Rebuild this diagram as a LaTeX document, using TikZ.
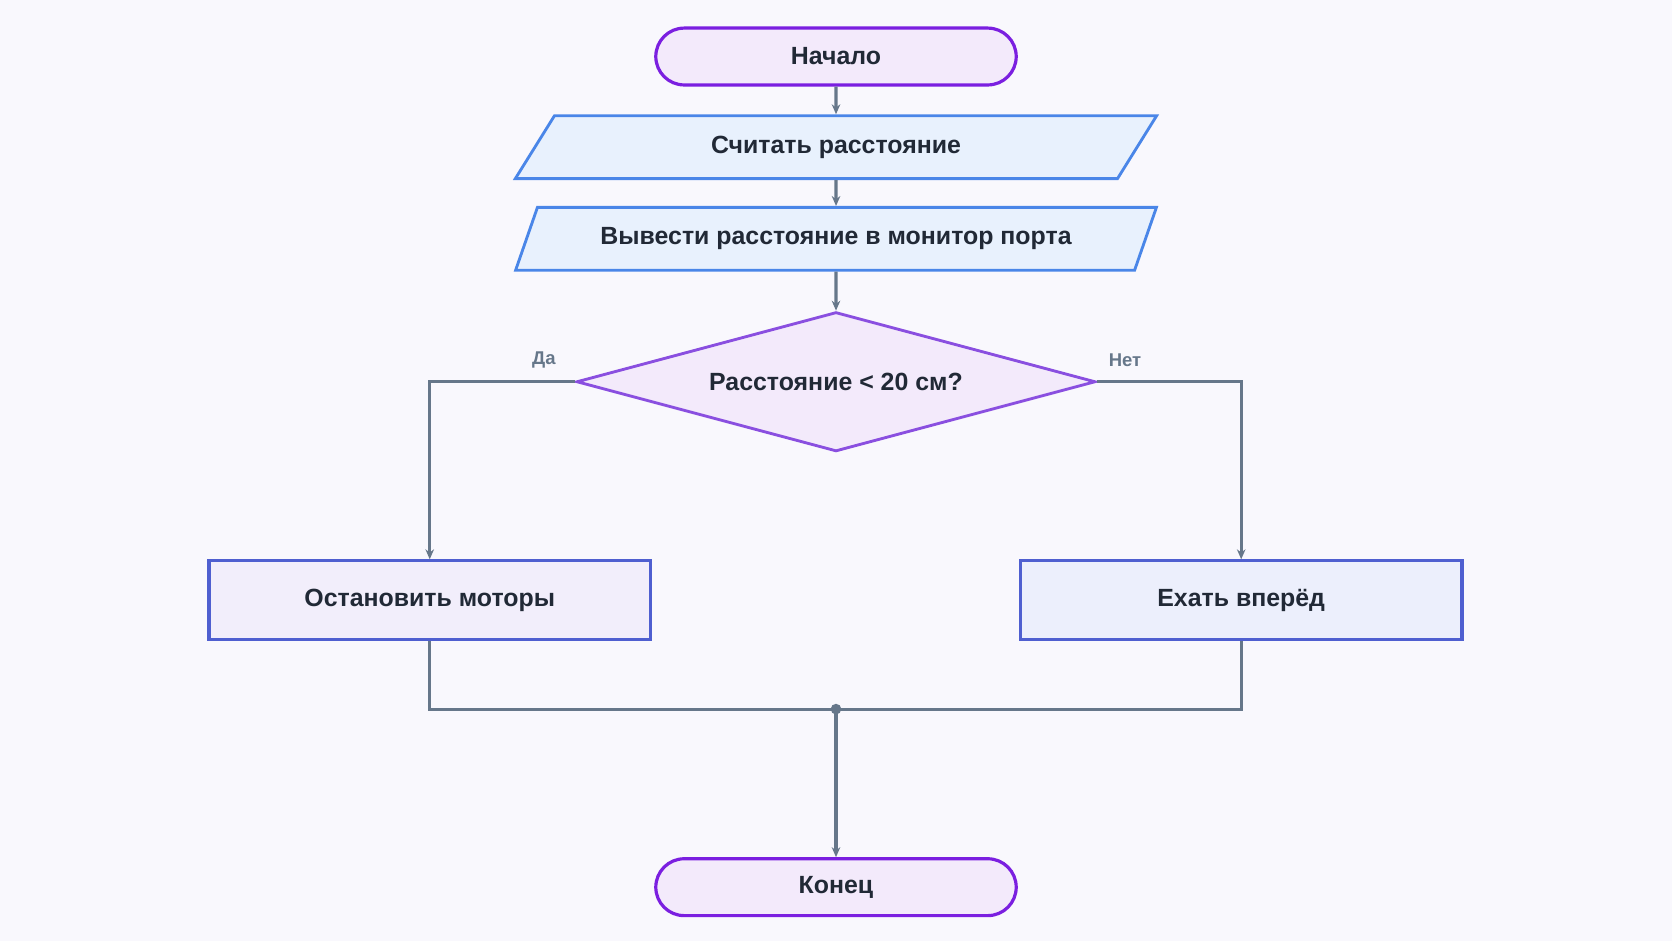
\documentclass[tikz,border=0pt]{standalone}
\usepackage{fontspec}
\setmainfont{Liberation Sans}
\usetikzlibrary{shapes.geometric,arrows.meta}
\definecolor{bgc}{RGB}{249,248,253}
\definecolor{termline}{RGB}{123,31,224}
\definecolor{termfill}{RGB}{243,234,251}
\definecolor{ioline}{RGB}{74,134,232}
\definecolor{iofill}{RGB}{232,241,253}
\definecolor{decline}{RGB}{138,79,224}
\definecolor{boxline}{RGB}{79,95,208}
\definecolor{boxfillA}{RGB}{242,238,251}
\definecolor{boxfillB}{RGB}{236,239,252}
\definecolor{conn}{RGB}{102,119,138}
\definecolor{txt}{RGB}{33,41,54}
\tikzset{every picture/.style={line width=0.75pt}}
\tikzset{
  term/.style={draw=termline,fill=termfill,line width=2.25pt,rounded corners=20pt,minimum width=253.5pt,minimum height=40pt,text=txt,font=\fontsize{17.5}{20}\selectfont\bfseries},
  io/.style={draw=ioline,fill=iofill,line width=2pt,trapezium,trapezium left angle=61.5,trapezium right angle=118.5,trapezium stretches=true,inner xsep=0pt,minimum width=451.5pt,minimum height=44.25pt,text=txt,font=\fontsize{17.5}{20}\selectfont\bfseries},
  dec/.style={draw=decline,fill=termfill,line width=2pt,diamond,aspect=3.72,inner sep=0pt,minimum width=365pt,minimum height=98pt,text=txt,font=\fontsize{17.5}{20}\selectfont\bfseries},
  act/.style={draw=boxline,line width=2.25pt,minimum width=310.5pt,minimum height=55.5pt,text=txt,font=\fontsize{17.5}{20}\selectfont\bfseries},
  link/.style={draw=conn,line width=2.25pt},
  arr/.style={link,-{Stealth[length=7pt,width=6pt]}},
  lbl/.style={text=conn,font=\fontsize{13}{15}\selectfont\bfseries}
}
\begin{document}
\begin{tikzpicture}[x=0.75pt,y=0.75pt,yscale=-1,xscale=1]
    \fill[bgc] (0,0) rectangle (1568,882);
    \useasboundingbox (0,0) rectangle (1568,882);

    % Nodes
    \node[term] (start) at (784,53) {Начало};
    \node[io] (read) at (784,138) {Считать расстояние};
    \node[io] (print) at (784,224) {Вывести расстояние в монитор порта};
    \node[dec] (check) at (784,358) {Расстояние < 20 см?};
    \node[act,fill=boxfillA] (stop) at (403,563) {Остановить моторы};
    \node[act,fill=boxfillB] (go) at (1164,563) {Ехать вперёд};
    \node[term] (finish) at (784,832) {Конец};
    \coordinate (merge) at (784,665);

    % Connectors
    \draw[arr] (start) -- (read);
    \draw[arr] (read) -- (print);
    \draw[arr] (print) -- (check);
    \draw[arr] (check.west) -| (stop.north);
    \draw[arr] (check.east) -| (go.north);
    \draw[link] (stop.south) |- (merge);
    \draw[link] (go.south) |- (merge);
    \draw[arr] (merge) -- (finish.north);
    \fill[conn] (merge) circle (5);

    % Labels
    \node[lbl] (yes) at (510,338) {Да};
    \node[lbl] (no) at (1055,338) {Нет};
\end{tikzpicture}
\end{document}
